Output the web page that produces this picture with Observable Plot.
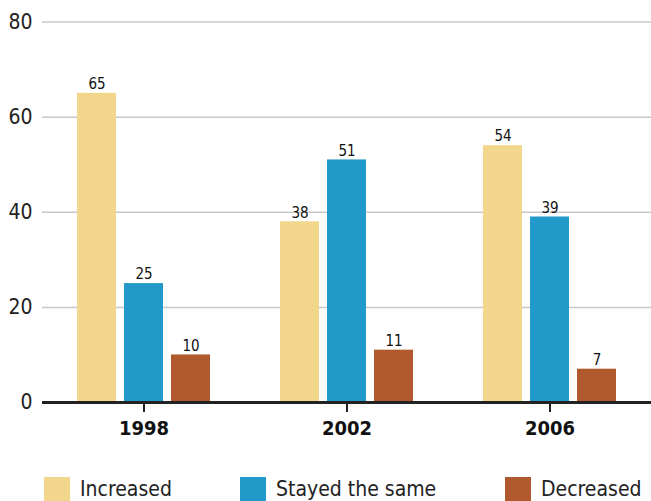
<!DOCTYPE html>
<html>
<head>
<meta charset="utf-8">
<script src="https://cdn.jsdelivr.net/npm/d3@7"></script>
<script src="https://cdn.jsdelivr.net/npm/@observablehq/plot@0.6"></script>
<style>
  html, body { margin: 0; padding: 0; background: #fff; }
  body { width: 651px; height: 501px; overflow: hidden; font-family: "DejaVu Sans Condensed", "Liberation Sans Narrow", "Liberation Sans", sans-serif; font-stretch: condensed; }
  #legend { position: relative; height: 46px; }
  .item { position: absolute; top: 22px; display: flex; align-items: center; font-size: 21px; color: #222; }
  .sw { width: 26px; height: 24px; margin-right: 10px; }
  svg text { font-family: "DejaVu Sans Condensed", "Liberation Sans Narrow", "Liberation Sans", sans-serif; font-stretch: condensed; }
</style>
</head>
<body>
<div id="chart"></div>
<div id="legend"></div>
<script>
const years = ["1998", "2002", "2006"];
const categories = ["Increased", "Stayed the same", "Decreased"];
const increased = [65, 38, 54];
const stayed = [25, 51, 39];
const decreased = [10, 11, 7];
const colors = ["#F2D68C", "#2199C9", "#AF592D"];
const yTicks = [0, 20, 40, 60, 80];

const series = [increased, stayed, decreased];
const data = [];
years.forEach((yr, i) => {
  categories.forEach((c, j) => data.push({year: yr, category: c, value: series[j][i]}));
});

const chart = Plot.plot({
  width: 651,
  height: 455,
  marginLeft: 42,
  marginRight: 0,
  marginTop: 21.5,
  marginBottom: 53,
  fx: {domain: years, padding: 0, label: null},
  x: {domain: categories, paddingInner: 0.168, paddingOuter: 0.721, axis: null},
  y: {domain: [0, 80], ticks: yTicks, label: null},
  color: {domain: categories, range: colors},
  marks: [
    Plot.gridY(yTicks.filter(d => d > 0), {stroke: "#c8c8c8", strokeOpacity: 1, strokeWidth: 1.5}),
    Plot.barY(data, {fx: "year", x: "category", y: "value", fill: "category"}),
    Plot.text(data, {fx: "year", x: "category", y: "value", text: d => String(d.value), dy: -9, fontSize: 15, fill: "#111"}),
    Plot.ruleY([0], {stroke: "#222", strokeWidth: 3}),
    Plot.axisY(yTicks, {tickSize: 0, tickPadding: 10, fontSize: 21, fill: "#222", label: null}),
    Plot.axisFx({anchor: "bottom", tickSize: 10, tickPadding: 8, fontSize: 20, fontWeight: "bold", stroke: "#222", strokeWidth: 2, fill: "#111", label: null})
  ]
});
document.getElementById("chart").appendChild(chart);

const legend = document.getElementById("legend");
const lefts = [44, 240, 505];
categories.forEach((c, j) => {
  const it = document.createElement("div");
  it.className = "item";
  it.style.left = lefts[j] + "px";
  it.innerHTML = `<div class="sw" style="background:${colors[j]}"></div><span>${c}</span>`;
  legend.appendChild(it);
});
</script>
</body>
</html>
